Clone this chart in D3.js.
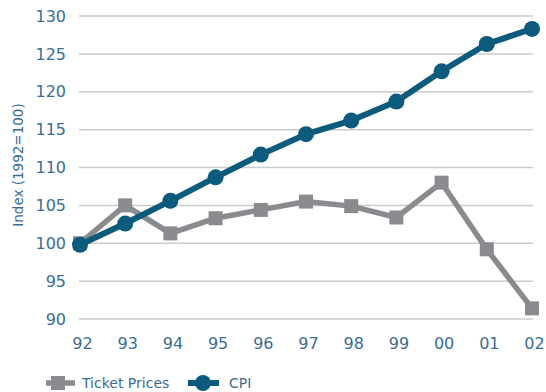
<!DOCTYPE html>
<html>
<head>
<meta charset="utf-8">
<script src="https://cdn.jsdelivr.net/npm/d3@7/dist/d3.min.js"></script>
<style>
  html, body { margin: 0; padding: 0; background: #fff; }
  svg { display: block; font-family: "DejaVu Sans", sans-serif; }
</style>
</head>
<body>
<svg id="chart" width="546" height="392"></svg>
<script>
// Years shown on the horizontal axis
const years = ["92", "93", "94", "95", "96", "97", "98", "99", "00", "01", "02"];
// Index values (1992 = 100)
const ticketPrices = [100.0, 105.0, 101.3, 103.3, 104.4, 105.5, 104.9, 103.4, 108.0, 99.2, 91.4];
const cpi = [99.8, 102.6, 105.6, 108.7, 111.7, 114.4, 116.2, 118.7, 122.7, 126.3, 128.3];
const yTicks = [90, 95, 100, 105, 110, 115, 120, 125, 130];

const seriesNames = ["Ticket Prices", "CPI"];
const grey = "#8a8b8f";
const blue = "#0d5b7c";
const textColor = "#3b6d94";

const svg = d3.select("#chart");

const x = d3.scalePoint().domain(years).range([80, 532]);
const y = d3.scaleLinear().domain([90, 130]).range([319, 16]);

// Horizontal grid lines
svg.append("g")
  .selectAll("line")
  .data(yTicks)
  .join("line")
  .attr("x1", 79).attr("x2", 533)
  .attr("y1", d => y(d)).attr("y2", d => y(d))
  .attr("stroke", "#cbcbcb").attr("stroke-width", 1.5);

// Y axis labels
const yAxis = d3.axisLeft(y).tickValues(yTicks).tickSize(0).tickPadding(0);
const yg = svg.append("g").attr("transform", "translate(66,0)").call(yAxis);
yg.select(".domain").remove();
yg.selectAll("text")
  .attr("fill", textColor)
  .style("font-size", "16px")
  .style("font-family", "DejaVu Sans, sans-serif");

// X axis labels
const xAxis = d3.axisBottom(x).tickSize(0).tickPadding(0);
const xg = svg.append("g").attr("transform", "translate(2,338)").call(xAxis);
xg.select(".domain").remove();
xg.selectAll("text")
  .attr("fill", textColor)
  .style("font-size", "16px")
  .style("font-family", "DejaVu Sans, sans-serif");

// Y axis title
svg.append("text")
  .attr("transform", "translate(23,165) rotate(-90)")
  .attr("text-anchor", "middle")
  .attr("fill", textColor)
  .style("font-size", "13.5px")
  .text("Index (1992=100)");

const line = d3.line().x((d, i) => x(years[i])).y(d => y(d));

// Ticket prices series
svg.append("path")
  .datum(ticketPrices)
  .attr("d", line)
  .attr("fill", "none")
  .attr("stroke", grey)
  .attr("stroke-width", 5.5)
  .attr("stroke-linejoin", "miter");
svg.append("g")
  .selectAll("rect")
  .data(ticketPrices)
  .join("rect")
  .attr("x", (d, i) => x(years[i]) - 7)
  .attr("y", d => y(d) - 7)
  .attr("width", 14).attr("height", 14)
  .attr("fill", grey);

// CPI series
svg.append("path")
  .datum(cpi)
  .attr("d", line)
  .attr("fill", "none")
  .attr("stroke", blue)
  .attr("stroke-width", 6)
  .attr("stroke-linejoin", "round");
svg.append("g")
  .selectAll("circle")
  .data(cpi)
  .join("circle")
  .attr("cx", (d, i) => x(years[i]))
  .attr("cy", d => y(d))
  .attr("r", 8)
  .attr("fill", blue);

// Legend
const legendY = 383;
const lg = svg.append("g");
lg.append("line").attr("x1", 46).attr("x2", 75).attr("y1", legendY).attr("y2", legendY)
  .attr("stroke", grey).attr("stroke-width", 5.5);
lg.append("rect").attr("x", 51).attr("y", legendY - 7).attr("width", 14).attr("height", 14)
  .attr("fill", grey);
lg.append("text").attr("x", 82).attr("y", legendY).attr("dy", "0.35em")
  .attr("fill", textColor).style("font-size", "14px").text(seriesNames[0]);
lg.append("line").attr("x1", 188).attr("x2", 219).attr("y1", legendY).attr("y2", legendY)
  .attr("stroke", blue).attr("stroke-width", 6);
lg.append("circle").attr("cx", 203).attr("cy", legendY).attr("r", 8).attr("fill", blue);
lg.append("text").attr("x", 229).attr("y", legendY).attr("dy", "0.35em")
  .attr("fill", textColor).style("font-size", "14px").text(seriesNames[1]);
</script>
</body>
</html>
